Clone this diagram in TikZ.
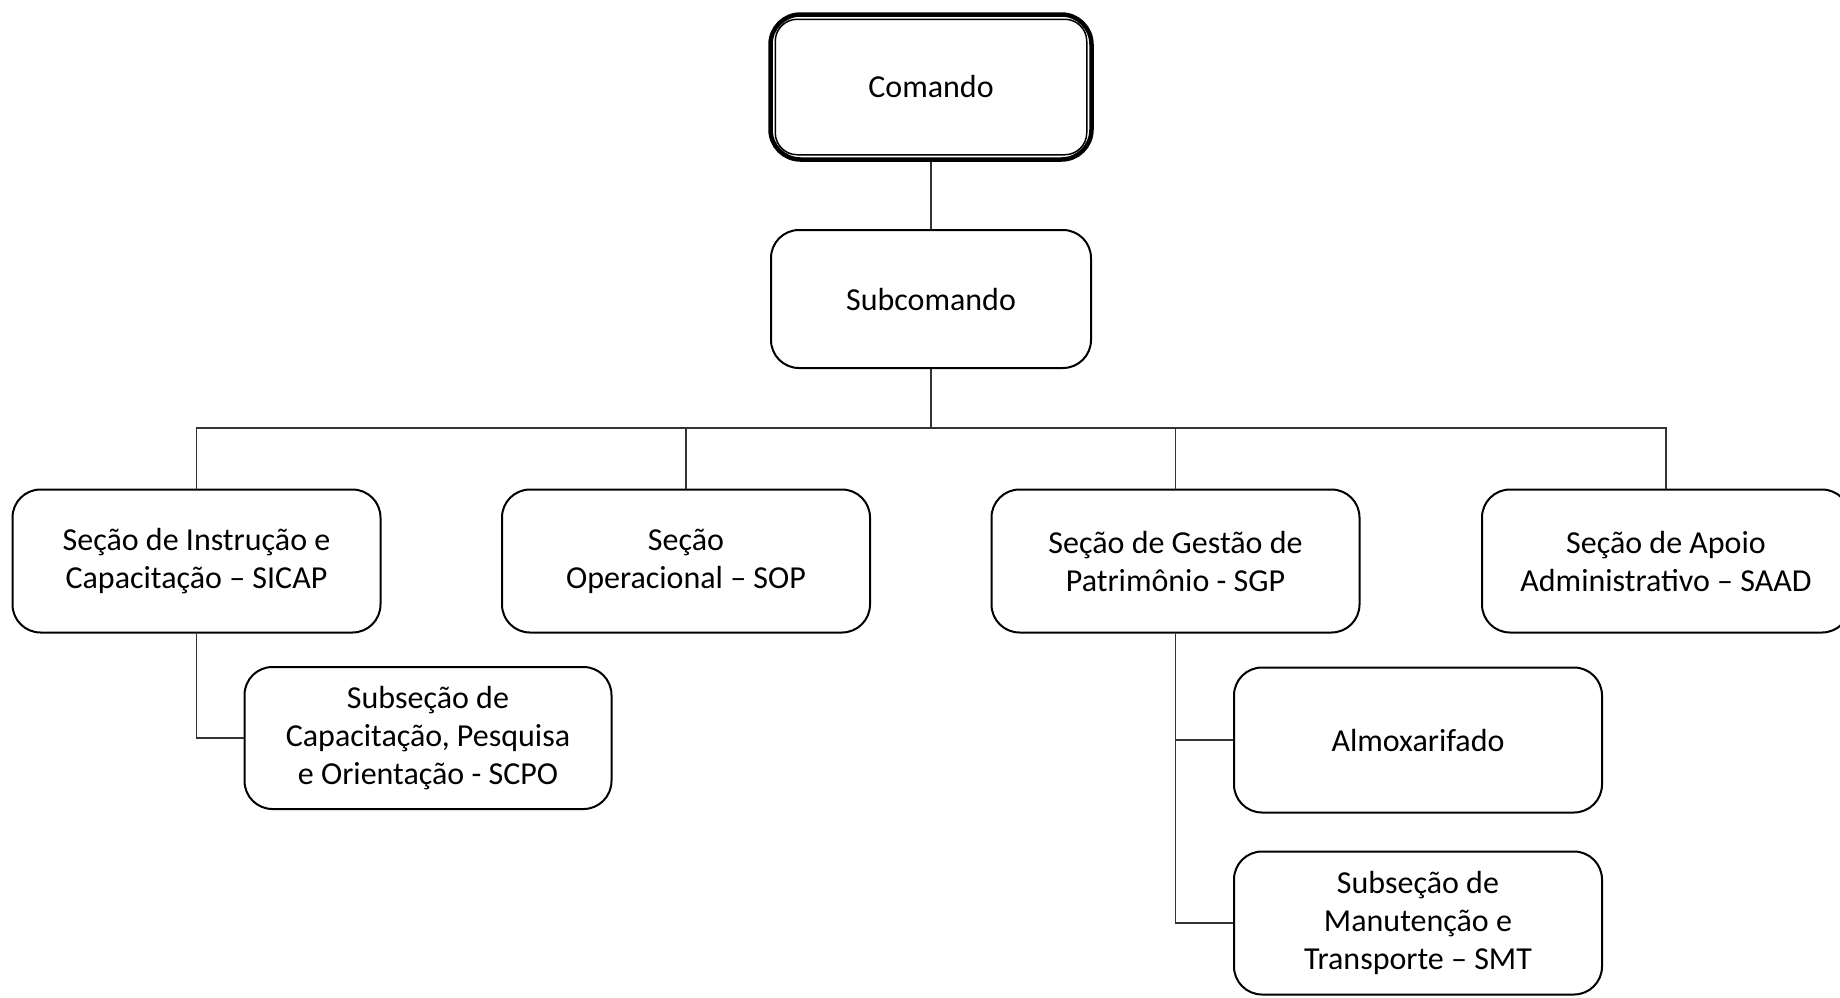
\documentclass[tikz,border=0pt]{standalone}
\usepackage{fontspec}
\setmainfont{Carlito}
\begin{document}
\begin{tikzpicture}[x=1pt,y=-1pt,
  box/.style={draw=black,line width=2pt,rounded corners=28pt,align=center,
    minimum width=368pt,minimum height=143pt,inner sep=0pt,
    font=\fontsize{32}{38}\selectfont},
  conn/.style={draw=black!80,line width=1.4pt}]
\clip (0,0) rectangle (1840,997);
\fill[white] (0,0) rectangle (1840,997);
\node[box,line width=4.5pt,minimum width=321pt,minimum height=145pt,rounded corners=30pt] (com) at (931,87) {Comando};
\draw[line width=1.5pt,rounded corners=22pt] ([shift={(7pt,-7pt)}]com.north west) rectangle ([shift={(-7pt,7pt)}]com.south east);
\node[box,minimum width=320pt,minimum height=138pt] (sub) at (931,299) {Subcomando};
\node[box] (b1) at (196.5,561) {Seção de Instrução e\\Capacitação – SICAP};
\node[box] (b2) at (686,561) {Seção\\Operacional – SOP};
\node[box] (b3) at (1175.5,561) {Seção de Gestão de\\Patrimônio - SGP};
\node[box] (b4) at (1666,561) {Seção de Apoio\\Administrativo – SAAD};
\node[box,minimum width=367pt,minimum height=142pt] (scpo) at (428,738) {Subseção de\\Capacitação, Pesquisa\\e Orientação - SCPO};
\node[box,minimum height=145pt] (alm) at (1418,740) {Almoxarifado};
\node[box] (smt) at (1418,923) {Subseção de\\Manutenção e\\Transporte – SMT};
\coordinate (bus) at (931,428);
\draw[conn] (com.south) -- (sub.south |- com.south) -- (sub.north);
\draw[conn] (sub.south) -- (bus);
\draw[conn] (bus) -| (b1.north);
\draw[conn] (bus) -| (b2.north);
\draw[conn] (bus) -| (b3.north);
\draw[conn] (bus) -| (b4.north);
\draw[conn] (b1.south) |- (scpo.west);
\draw[conn] (b3.south) |- (alm.west);
\draw[conn] (b3.south) |- (smt.west);
\end{tikzpicture}
\end{document}
